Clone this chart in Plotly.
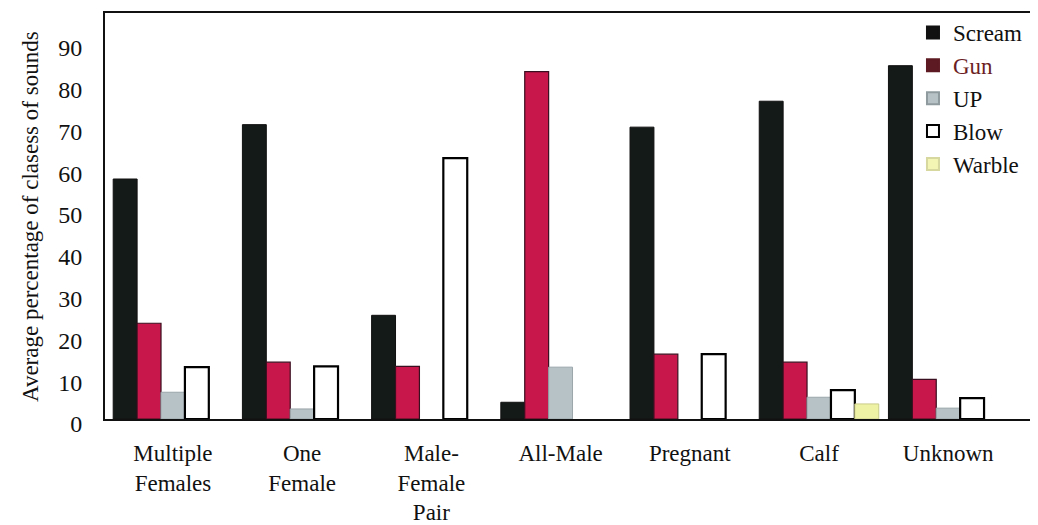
import plotly.graph_objects as go

categories = ["Multiple<br>Females", "One<br>Female", "Male-<br>Female<br>Pair",
              "All-Male", "Pregnant", "Calf", "Unknown"]
series_names = ["Scream", "Gun", "UP", "Blow", "Warble"]
scream = [57.4, 70.4, 24.8, 4.0, 69.8, 76.0, 84.5]
gun = [22.9, 13.6, 12.6, 83.1, 15.5, 13.6, 9.5]
up = [6.4, 2.4, 0, 12.4, 0, 5.2, 2.6]
blow = [12.4, 12.6, 62.4, 0, 15.5, 6.9, 5.0]
warble = [0, 0, 0, 0, 0, 3.6, 0]
y_ticks = [0, 10, 20, 30, 40, 50, 60, 70, 80, 90]

values = [scream, gun, up, blow, warble]
fill = ["#141a18", "#c8174a", "#b6c2c6", "#ffffff", "#eef2a4"]
outline = ["#101010", "#3a1020", "#9aa6aa", "#000000", "#c9cc8a"]
outline_w = [1, 1.2, 1, 2.2, 1]
legend_fill = ["#111111", "#5e1a22", "#b6c2c6", "#ffffff", "#f2f5b4"]
legend_line = ["#111111", "#5e1a22", "#8e9a9e", "#000000", "#d6d8a0"]
legend_text = ["Scream", "<span style='color:#6b1e24'>Gun</span>", "UP", "Blow", "Warble"]

FONT = "\"Liberation Serif\", \"Times New Roman\", serif"

fig = go.Figure()
for i, name in enumerate(series_names):
    widths = [outline_w[i] if v > 0 else 0 for v in values[i]]
    fig.add_trace(go.Bar(
        x=categories, y=values[i], name=name, showlegend=False,
        marker=dict(color=fill[i], line=dict(color=outline[i], width=widths)),
    ))
for i, name in enumerate(series_names):
    fig.add_trace(go.Scatter(
        x=[None], y=[None], mode="markers", name=legend_text[i],
        marker=dict(symbol="square", size=15, color=legend_fill[i],
                    line=dict(color=legend_line[i], width=2 if i == 3 else 1)),
    ))

fig.update_layout(
    width=1030, height=517,
    margin=dict(l=97, r=0, t=5, b=94),
    paper_bgcolor="white", plot_bgcolor="white",
    font=dict(family=FONT, size=23, color="#111111"),
    barmode="group", bargap=0.075, bargroupgap=0,
    legend=dict(x=0.866, y=1.005, xanchor="left", yanchor="top",
                font=dict(size=23, color="#111111"),
                bgcolor="rgba(0,0,0,0)", itemsizing="constant"),
    xaxis=dict(range=[-0.526, 6.695], showline=True, linecolor="#111111", linewidth=2,
               mirror=True, showgrid=False, ticks="", tickfont=dict(size=23),
               ticklabelstandoff=12),
    yaxis=dict(range=[0, 97.1], tickvals=y_ticks, showline=True, linecolor="#111111",
               linewidth=2, showgrid=False, zeroline=False, ticks="",
               tickfont=dict(size=24), ticklabelstandoff=16, ticklabelshift=5),
    annotations=[dict(text="Average percentage of clasess of sounds", xref="paper", yref="paper",
                      x=-0.0804, y=0.5, xanchor="center", yanchor="middle", textangle=-90,
                      showarrow=False, font=dict(size=23, family=FONT, color="#111111"))],
)

fig.write_html("out.html")
